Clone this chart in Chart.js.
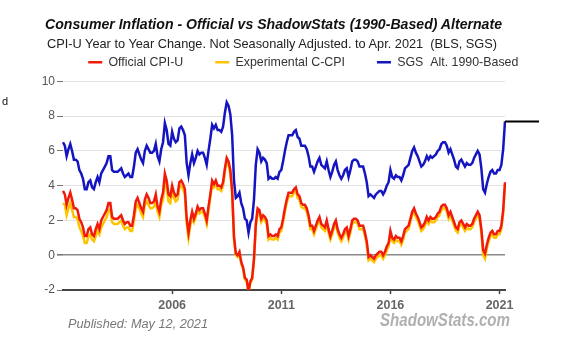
<!DOCTYPE html>
<html>
<head>
<meta charset="utf-8">
<script src="https://cdn.jsdelivr.net/npm/chart.js@4.4.0/dist/chart.umd.min.js"></script>
<style>
html, body { margin: 0; padding: 0; background: #fff; overflow: hidden; width: 569px; height: 354px; }
#wrap { position: relative; width: 569px; height: 354px; overflow: hidden; }
#chart { position: absolute; left: 0; top: 0; }
.txt { position: absolute; white-space: nowrap; font-family: 'Liberation Sans', Arial, sans-serif; transform-origin: 0 50%; line-height: 1; }
</style>
</head>
<body>
<div id="wrap">
  <canvas id="chart" width="640" height="354" style="width:640px;height:354px"></canvas>
  <div class="txt" data-w="457" style="left:45px;top:17px;font-size:14px;font-weight:bold;font-style:italic;color:#111">Consumer Inflation - Official vs ShadowStats (1990-Based) Alternate</div>
  <div class="txt" data-w="450" style="left:47px;top:36.5px;font-size:13px;color:#222">CPI-U Year to Year Change. Not Seasonally Adjusted. to Apr. 2021&nbsp;&nbsp;(BLS, SGS)</div>
  <div class="txt" data-w="140" style="left:68px;top:318px;font-size:12.5px;font-style:italic;color:#777">Published: May 12, 2021</div>
  <div class="txt" data-w="130" style="left:380px;top:311px;font-size:18px;font-weight:bold;font-style:italic;color:#b0b0b0">ShadowStats.com</div>
  <div class="txt" style="left:2px;top:96px;font-size:11px;color:#111">d</div>
</div>
<script>
// monthly series, Jan 2001 .. Apr 2021 (% change year to year)
const startYear = 2001;
const tickYears = [2006, 2011, 2016, 2021];

const cpiU = [
  3.7, 3.5, 2.9, 3.3, 3.6, 3.2, 2.7, 2.7, 2.6, 2.1, 1.9, 1.6,
  1.1, 1.1, 1.5, 1.6, 1.2, 1.1, 1.5, 1.8, 1.5, 2.0, 2.2, 2.4,
  2.6, 3.0, 3.0, 2.2, 2.1, 2.1, 2.1, 2.2, 2.3, 2.0, 1.8, 1.9,
  1.9, 1.7, 1.7, 2.3, 3.1, 3.3, 3.0, 2.7, 2.5, 3.2, 3.5, 3.3,
  3.0, 3.0, 3.1, 3.5, 2.8, 2.5, 3.2, 3.6, 4.7, 4.3, 3.5, 3.4,
  4.0, 3.6, 3.4, 3.5, 4.2, 4.3, 4.1, 3.8, 2.1, 1.3, 2.0, 2.5,
  2.1, 2.4, 2.8, 2.6, 2.7, 2.7, 2.4, 2.0, 2.8, 3.5, 4.3, 4.1,
  4.3, 4.0, 4.0, 3.9, 4.2, 5.0, 5.6, 5.4, 4.9, 3.7, 1.1, 0.1,
  0.0, 0.2, -0.4, -0.7, -1.3, -1.4, -2.1, -1.5, -1.3, -0.2, 1.8, 2.7,
  2.6, 2.1, 2.3, 2.2, 2.0, 1.1, 1.2, 1.1, 1.1, 1.2, 1.1, 1.5,
  1.6, 2.1, 2.7, 3.2, 3.6, 3.6, 3.6, 3.8, 3.9, 3.5, 3.4, 3.0,
  2.9, 2.9, 2.7, 2.3, 1.7, 1.7, 1.4, 1.7, 2.0, 2.2, 1.8, 1.7,
  1.6, 2.0, 1.5, 1.1, 1.4, 1.8, 2.0, 1.5, 1.2, 1.0, 1.2, 1.5,
  1.6, 1.1, 1.5, 2.0, 2.1, 2.1, 2.0, 1.7, 1.7, 1.7, 1.3, 0.8,
  -0.1, 0.0, -0.1, -0.2, 0.0, 0.1, 0.2, 0.2, 0.0, 0.2, 0.5, 0.7,
  1.4, 1.0, 0.9, 1.1, 1.0, 1.0, 0.8, 1.1, 1.5, 1.6, 1.7, 2.1,
  2.5, 2.7, 2.4, 2.2, 1.9, 1.6, 1.7, 1.9, 2.2, 2.0, 2.2, 2.1,
  2.1, 2.2, 2.4, 2.5, 2.8, 2.9, 2.9, 2.7, 2.3, 2.5, 2.2, 1.9,
  1.6, 1.5, 1.9, 2.0, 1.8, 1.6, 1.8, 1.7, 1.7, 1.8, 2.1, 2.3,
  2.5, 2.3, 1.5, 0.3, 0.1, 0.6, 1.0, 1.3, 1.4, 1.2, 1.2, 1.4,
  1.4, 1.7, 2.6, 4.2
];

const cCpi = [
  3.0, 2.9, 2.3, 2.7, 3.0, 2.6, 2.2, 2.2, 2.1, 1.6, 1.4, 1.1,
  0.7, 0.7, 1.1, 1.2, 0.9, 0.8, 1.1, 1.4, 1.2, 1.6, 1.8, 2.0,
  2.2, 2.6, 2.6, 1.9, 1.8, 1.8, 1.8, 1.9, 2.0, 1.7, 1.5, 1.6,
  1.6, 1.4, 1.4, 2.0, 2.7, 2.9, 2.7, 2.4, 2.2, 2.9, 3.1, 2.9,
  2.7, 2.7, 2.8, 3.1, 2.5, 2.2, 2.9, 3.2, 4.3, 3.9, 3.1, 3.0,
  3.7, 3.3, 3.1, 3.2, 3.9, 4.0, 3.8, 3.5, 1.8, 1.0, 1.7, 2.2,
  1.9, 2.2, 2.6, 2.4, 2.5, 2.5, 2.2, 1.8, 2.6, 3.3, 4.1, 3.9,
  4.1, 3.8, 3.8, 3.7, 4.0, 4.8, 5.4, 5.2, 4.7, 3.5, 0.9, 0.0,
  -0.1, 0.1, -0.5, -0.8, -1.4, -1.5, -2.2, -1.6, -1.4, -0.3, 1.6, 2.5,
  2.4, 1.9, 2.1, 2.0, 1.8, 0.9, 1.0, 0.9, 0.9, 1.0, 0.9, 1.3,
  1.4, 1.9, 2.5, 3.0, 3.4, 3.4, 3.4, 3.6, 3.7, 3.3, 3.2, 2.8,
  2.7, 2.7, 2.5, 2.1, 1.5, 1.5, 1.2, 1.5, 1.8, 2.0, 1.6, 1.5,
  1.4, 1.8, 1.3, 0.9, 1.2, 1.6, 1.8, 1.3, 1.0, 0.8, 1.0, 1.3,
  1.4, 0.9, 1.3, 1.8, 1.9, 1.9, 1.8, 1.5, 1.5, 1.5, 1.1, 0.6,
  -0.3, -0.2, -0.3, -0.4, -0.2, -0.1, 0.0, 0.0, -0.2, 0.0, 0.3, 0.5,
  1.2, 0.8, 0.7, 0.9, 0.8, 0.8, 0.6, 0.9, 1.3, 1.4, 1.5, 1.9,
  2.3, 2.5, 2.2, 2.0, 1.7, 1.4, 1.5, 1.7, 2.0, 1.8, 2.0, 1.9,
  1.9, 2.0, 2.2, 2.3, 2.6, 2.7, 2.7, 2.5, 2.1, 2.3, 2.0, 1.7,
  1.4, 1.3, 1.7, 1.8, 1.6, 1.4, 1.6, 1.5, 1.5, 1.6, 1.9, 2.1,
  2.3, 2.1, 1.3, 0.0, -0.2, 0.4, 0.8, 1.1, 1.2, 1.0, 1.0, 1.2,
  1.2, 1.5, 2.4, 4.1
];

const sgsAlt = [
  6.5, 6.3, 5.7, 6.1, 6.4, 6.0, 5.5, 5.5, 5.4, 4.9, 4.7, 4.4,
  3.8, 3.8, 4.2, 4.3, 3.9, 3.8, 4.2, 4.5, 4.2, 4.7, 4.9, 5.1,
  5.3, 5.7, 5.7, 4.9, 4.8, 4.8, 4.8, 4.9, 5.0, 4.7, 4.5, 4.6,
  4.7, 4.5, 4.5, 5.1, 5.9, 6.1, 5.8, 5.5, 5.3, 6.0, 6.3, 6.1,
  5.9, 5.9, 6.0, 6.4, 5.7, 5.4, 6.1, 6.5, 7.6, 7.2, 6.4, 6.3,
  7.1, 6.7, 6.5, 6.6, 7.3, 7.4, 7.2, 6.9, 5.3, 4.6, 5.3, 5.8,
  5.3, 5.6, 6.0, 5.8, 5.9, 5.9, 5.6, 5.2, 6.0, 6.7, 7.5, 7.3,
  7.5, 7.2, 7.2, 7.1, 7.4, 8.2, 8.8, 8.6, 8.1, 6.9, 4.3, 3.3,
  3.4, 3.6, 3.0, 2.7, 2.1, 2.0, 1.3, 1.9, 2.1, 3.2, 5.2, 6.1,
  5.9, 5.4, 5.6, 5.5, 5.3, 4.4, 4.5, 4.4, 4.4, 4.5, 4.4, 4.8,
  4.9, 5.4, 6.0, 6.5, 6.9, 6.9, 6.9, 7.1, 7.2, 6.8, 6.7, 6.3,
  6.3, 6.3, 6.1, 5.7, 5.1, 5.1, 4.8, 5.1, 5.4, 5.6, 5.2, 5.1,
  5.0, 5.4, 4.9, 4.5, 4.8, 5.2, 5.4, 4.9, 4.6, 4.4, 4.6, 4.9,
  5.0, 4.5, 4.9, 5.4, 5.5, 5.5, 5.4, 5.1, 5.1, 5.1, 4.7, 4.2,
  3.4, 3.5, 3.4, 3.3, 3.5, 3.6, 3.7, 3.7, 3.5, 3.7, 4.0, 4.2,
  4.9, 4.5, 4.4, 4.6, 4.5, 4.5, 4.3, 4.6, 5.0, 5.1, 5.2, 5.6,
  6.0, 6.2, 5.9, 5.7, 5.4, 5.1, 5.2, 5.4, 5.7, 5.5, 5.7, 5.6,
  5.7, 5.8, 6.0, 6.1, 6.4, 6.5, 6.5, 6.3, 5.9, 6.1, 5.8, 5.5,
  5.1, 5.0, 5.4, 5.5, 5.3, 5.1, 5.3, 5.2, 5.2, 5.3, 5.6, 5.8,
  6.0, 5.8, 5.0, 3.8, 3.6, 4.1, 4.5, 4.8, 4.9, 4.7, 4.7, 4.9,
  4.9, 5.2, 6.1, 7.7
];

const labels = cpiU.map((v, i) => {
  const y = startYear + Math.floor(i / 12);
  const m = (i % 12) + 1;
  return y + "-" + (m < 10 ? "0" + m : m);
});

const fontFam = "'Liberation Sans', Arial, sans-serif";

function isYearTick(i) {
  const l = labels[i];
  return l.endsWith("-01") && tickYears.includes(+l.slice(0, 4));
}

// short black pointer at the latest SGS value, right of the plot
const lastValueMark = {
  id: "lastValueMark",
  afterDatasetsDraw(chart) {
    const { ctx, chartArea, scales } = chart;
    const y = scales.y.getPixelForValue(sgsAlt[sgsAlt.length - 1]);
    ctx.save();
    ctx.strokeStyle = "#000";
    ctx.lineWidth = 2;
    ctx.beginPath();
    ctx.moveTo(chartArea.right, y);
    ctx.lineTo(chartArea.right + 34, y);
    ctx.stroke();
    ctx.restore();
  }
};

new Chart(document.getElementById("chart"), {
  type: "line",
  data: {
    labels: labels,
    datasets: [
      { label: "Official CPI-U", data: cpiU, borderColor: "#f21a0a", borderWidth: 2.5, pointRadius: 0, tension: 0 },
      { label: "Experimental C-CPI", data: cCpi, borderColor: "#ffc400", borderWidth: 2.5, pointRadius: 0, tension: 0 },
      { label: "SGS  Alt. 1990-Based", data: sgsAlt, borderColor: "#1414c0", borderWidth: 2.5, pointRadius: 0, tension: 0 }
    ]
  },
  options: {
    responsive: false,
    animation: false,
    layout: { padding: { left: 42, right: 75.4, top: 24, bottom: 38 } },
    plugins: {
      tooltip: { enabled: false },
      title: { display: false },
      subtitle: { display: true, text: "", weight: 500, font: { size: 1, lineHeight: "1px" }, padding: { top: 0, bottom: 2 } },
      legend: {
        position: "top",
        align: "center",
        labels: {
          usePointStyle: true,
          pointStyle: "line",
          pointStyleWidth: 14,
          padding: 32,
          color: "#333",
          font: { family: fontFam, size: 12.4 }
        }
      }
    },
    scales: {
      x: {
        type: "category",
        ticks: {
          autoSkip: false,
          maxRotation: 0,
          minRotation: 0,
          padding: 4,
          color: "#666",
          font: { family: fontFam, size: 12.5, weight: "bold" },
          callback: (v, i) => isYearTick(i) ? labels[i].slice(0, 4) : ""
        },
        grid: {
          drawOnChartArea: false,
          tickLength: 4,
          tickWidth: 1.5,
          tickColor: (c) => isYearTick(c.index) ? "#444" : "rgba(0,0,0,0)"
        },
        border: { display: true, color: "#444", width: 2 },
        afterFit: (s) => { s.height = 26; }
      },
      y: {
        min: -2,
        max: 10,
        ticks: { stepSize: 2, padding: 2, color: "#555", font: { family: fontFam, size: 12 } },
        grid: {
          color: (c) => c.tick.value === 0 ? "#8a8a8a" : (c.tick.value === -2 ? "rgba(0,0,0,0)" : "#e2e2e2"),
          lineWidth: (c) => c.tick.value === 0 ? 1.6 : 1,
          tickLength: 6,
          tickColor: "#777"
        },
        border: { display: false },
        afterFit: (s) => { s.width = 21; }
      },
      yRight: {
        position: "right",
        ticks: { display: false },
        grid: { display: false },
        border: { display: false },
        afterFit: (s) => { s.width = 59.6; }
      }
    }
  },
  plugins: [lastValueMark]
});

// squeeze the overlay texts to the widths they have in the picture
document.fonts.ready.then(() => {
  document.querySelectorAll(".txt[data-w]").forEach((el) => {
    const w = el.getBoundingClientRect().width;
    el.style.transform = "scaleX(" + (+el.dataset.w / w) + ")";
  });
});
</script>
</body>
</html>
